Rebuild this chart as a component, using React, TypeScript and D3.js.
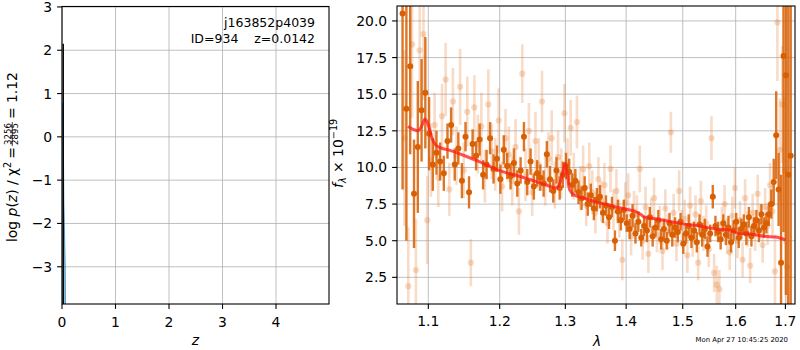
import React, { useLayoutEffect, useRef, useState } from "react";
import * as d3 from "d3";

// ---------- Data ----------
const pzTicksX = [0, 1, 2, 3, 4];
const pzTicksY = [-3, -2, -1, 0, 1, 2, 3];
const specTicksX = [1.1, 1.2, 1.3, 1.4, 1.5, 1.6, 1.7];
const specTicksY = [2.5, 5.0, 7.5, 10.0, 12.5, 15.0, 17.5, 20.0];

// chi2 / log p(z) spike
const chiZ = [0.0142, 0.0142];
const chiLogP = [-8, 2.15];
// p(z) blue fill
const pzZ = [0.016, 0.016, 0.028, 0.035, 0.06, 0.085];
const pzLogP = [-8, 0.78, -0.5, -1.5, -3.0, -8];

// spectrum, beam A (dark)
const darkLam0 = 1.066;
const darkStep = 0.005;
const darkFlux = [
  20.5, 14.0, 16.9, 8.2, 11.4, 13.9, 15.1, 12.3, 10.2, 11.0,
  10.4, 9.6, 11.8, 12.9, 10.2, 11.3, 9.1, 12.1, 8.3, 11.6,
  10.8, 11.9, 9.5, 10.2, 12.0, 9.9, 10.6, 9.2, 11.2, 10.1,
  9.4, 10.3, 8.9, 9.8, 12.1, 9.0, 10.4, 8.7, 9.6, 9.3,
  8.9, 10.9, 9.2, 8.4, 9.8, 8.6, 9.5, 10.1, 9.7, 8.8,
  9.1, 8.3, 7.9, 8.6, 7.5, 8.1, 7.2, 7.8, 8.0, 6.9,
  7.4, 6.6, 7.3, 5.0, 7.0, 6.4, 7.1, 6.2, 5.8, 6.7,
  5.5, 6.3, 5.2, 6.0, 5.7, 6.6, 5.3, 5.9, 6.4, 5.1,
  5.8, 5.0, 6.2, 5.4, 5.9, 5.6, 6.3, 4.8, 5.5, 6.0,
  5.2, 5.7, 4.9, 6.1, 5.4, 5.8, 4.6, 5.5, 8.0, 6.0,
  5.6, 5.1, 6.2, 5.4, 5.9, 4.9, 5.7, 6.3, 5.2, 5.8,
  6.1, 5.5, 6.6, 5.3, 6.0, 6.4, 5.7, 6.8, 5.9, 6.2,
  6.8, 7.5, 9.0, 12.2, 8.5, 3.5, 17.6, 16.3, 9.5, 10.8,
];
const darkErr = [
  12, 9, 6, 3.7, 4.5, 3.5, 3.8, 2.5, 1.8, 1.5,
  1.3, 1.2, 1.2, 1.2, 1.1, 1.1, 1.2, 1.0, 1.1, 1.0,
  1.0, 1.1, 1.0, 1.0, 1.1, 1.0, 0.9, 1.0, 1.0, 0.9,
  0.9, 1.0, 0.9, 0.9, 1.0, 0.9, 0.9, 0.9, 0.9, 0.9,
  0.9, 0.9, 0.9, 0.8, 0.9, 0.8, 0.9, 0.9, 0.9, 0.8,
  0.8, 0.8, 0.8, 0.8, 0.8, 0.8, 0.8, 0.8, 0.8, 0.7,
  0.7, 0.8, 0.7, 0.7, 0.8, 0.7, 0.7, 0.6, 0.7, 0.8,
  0.7, 0.7, 0.6, 0.7, 0.8, 0.7, 0.7, 0.6, 0.7, 0.7,
  0.7, 0.6, 0.7, 0.8, 0.7, 0.7, 0.6, 0.7, 0.7, 0.8,
  0.7, 0.6, 0.7, 0.7, 0.8, 0.7, 0.7, 0.6, 0.8, 0.7,
  0.7, 0.7, 0.6, 0.7, 0.8, 0.7, 0.7, 0.6, 0.7, 0.7,
  0.7, 0.8, 0.7, 0.7, 0.6, 0.7, 0.8, 0.7, 0.7, 0.7,
  0.8, 1.0, 1.6, 3.0, 2.5, 6, 12, 15, 20, 20,
];

// spectrum, beam B (light)
const lightLam0 = 1.0685;
const lightStep = 0.005;
const lightFlux = [
  12.0, 1.9, 18.4, 3.0, 18.0, 19.1, 6.4, 10.5, 12.9, 9.3,
  13.5, 16.0, 8.5, 14.5, 10.8, 15.5, 9.8, 13.8, 3.5, 14.1,
  11.6, 12.8, 9.4, 14.3, 11.1, 10.2, 13.2, 8.7, 12.0, 10.9,
  9.1, 11.4, 7.0, 16.4, 9.5, 12.5, 8.3, 11.8, 10.2, 14.5,
  9.1, 10.6, 12.0, 8.8, 10.7, 9.6, 13.7, 10.3, 12.7, 9.4,
  13.1, 8.6, 9.9, 7.4, 10.1, 8.3, 6.9, 9.2, 7.7, 8.8,
  6.2, 9.9, 7.1, 8.4, 6.5, 3.7, 7.6, 8.1, 5.3, 7.0,
  6.8, 9.9, 5.0, 7.3, 4.1, 6.6, 7.9, 5.4, 6.1, 4.3,
  7.2, 5.6, 12.4, 6.9, 4.8, 8.4, 5.9, 6.5, 4.0, 7.4,
  5.1, 6.8, 3.5, 7.7, 5.5, 6.2, 4.4, 12.0, 2.8, 2.0,
  1.7, 6.1, 7.5, 5.3, 4.2, 6.7, 8.6, 5.0, 6.4, 3.7,
  7.9, 5.8, 3.3, 6.9, 5.5, 8.2, 6.3, 4.7, 7.3, 6.0,
  8.8, 7.0, 2.9, 19.9, 11.2, 14.3, 9.8, 3.2,
];
const lightErr = [
  6, 4, 5, 3.5, 4, 4.5, 3, 2.5, 2.2, 2.0,
  2.2, 2.5, 1.8, 2.3, 2.0, 2.6, 1.9, 2.4, 1.6, 2.2,
  2.0, 2.3, 1.8, 2.4, 1.9, 1.8, 2.2, 1.7, 2.0, 1.9,
  1.7, 1.9, 1.6, 2.0, 1.8, 1.9, 1.6, 2.0, 1.8, 2.1,
  1.7, 1.8, 1.9, 1.6, 1.8, 1.7, 2.0, 1.7, 1.9, 1.6,
  1.8, 1.5, 1.6, 1.4, 1.6, 1.5, 1.4, 1.5, 1.4, 1.5,
  1.4, 1.6, 1.4, 1.5, 1.3, 1.4, 1.4, 1.5, 1.3, 1.4,
  1.3, 1.6, 1.3, 1.4, 1.3, 1.3, 1.4, 1.2, 1.3, 1.3,
  1.3, 1.2, 1.4, 1.3, 1.2, 1.4, 1.2, 1.3, 1.2, 1.3,
  1.2, 1.3, 1.2, 1.4, 1.2, 1.2, 1.2, 1.5, 1.3, 1.3,
  1.3, 1.2, 1.3, 1.2, 1.2, 1.3, 1.4, 1.2, 1.3, 1.2,
  1.3, 1.2, 1.2, 1.3, 1.2, 1.3, 1.2, 1.2, 1.3, 1.3,
  1.5, 1.8, 2.5, 4.0, 3.5, 4.0, 5.0, 6.0,
];

// model
const modelLam = [
  1.073, 1.08, 1.086, 1.091, 1.0955, 1.1, 1.105, 1.109, 1.116, 1.127,
  1.15, 1.175, 1.199, 1.225, 1.25, 1.27, 1.285, 1.291, 1.296, 1.3,
  1.303, 1.307, 1.315, 1.33, 1.353, 1.37, 1.382, 1.4, 1.415, 1.425,
  1.432, 1.45, 1.479, 1.5, 1.532, 1.561, 1.58, 1.595, 1.605, 1.63,
  1.657, 1.68, 1.7,
];
const modelFlux = [
  12.8, 12.6, 12.5, 12.8, 13.3, 12.9, 12.0, 11.6, 11.35, 11.2,
  10.8, 10.3, 9.8, 9.45, 9.1, 8.8, 8.6, 8.9, 9.6, 10.3,
  9.5, 8.45, 8.1, 7.9, 7.6, 7.45, 7.3, 7.15, 7.0, 6.8,
  6.6, 6.5, 6.3, 6.15, 6.0, 5.8, 5.75, 5.65, 5.5, 5.45,
  5.3, 5.25, 5.05,
];

const titleLine1 = "j163852p4039";
const titleLine2 = "ID=934    z=0.0142";
const dateText = "Mon Apr 27 10:45:25 2020";
const chiNum = "3256";
const chiDen = "2895";
const chiRatio = "1.12";

// ---------- Layout ----------
const FONT = "DejaVu Sans, sans-serif";
const FS = 13.9;
const GRID = "#b0b0b0";
const DARK = "#d95f02";
const LIGHT = "#e8833a";
const TICK = 4.9;

const L = { x0: 62, x1: 329, y0: 6.5, y1: 304 };
const R = { x0: 397, x1: 795, y0: 6, y1: 304 };

function PzLabel() {
  const ref = useRef<SVGTextElement>(null);
  const [w, setW] = useState(84);
  useLayoutEffect(() => {
    if (ref.current) setW(ref.current.getComputedTextLength());
  }, []);
  // total label spans ~172px; keep its start at 242 (bottom)
  const fracStart = w + 4;
  const fracW = 24;
  return (
    <g transform="translate(0,242) rotate(-90)" fill="#000">
      <text ref={ref} x={0} y={17} fontSize={FS}>
        log <tspan fontStyle="italic">p</tspan>(<tspan fontStyle="italic">z</tspan>) / χ
        <tspan fontSize={9.7} dy={-6}>2</tspan>
        <tspan dy={6} dx={3}>=</tspan>
      </text>
      <text x={fracStart + fracW / 2} y={10.8} fontSize={8.6} textAnchor="middle">
        {chiNum}
      </text>
      <line x1={fracStart} x2={fracStart + fracW} y1={12.3} y2={12.3} stroke="#000" strokeWidth={0.7} />
      <text x={fracStart + fracW / 2} y={18.3} fontSize={8.6} textAnchor="middle">
        {chiDen}
      </text>
      <text x={fracStart + fracW + 3} y={17} fontSize={FS}>
        = {chiRatio}
      </text>
    </g>
  );
}

export default function App() {
  const xz = d3.scaleLinear().domain([0, 4.99]).range([L.x0, L.x1]);
  const yz = d3.scaleLinear().domain([-3.86, 3.01]).range([L.y1, L.y0]);
  const xl = d3.scaleLog().domain([1.0588, 1.72]).range([R.x0, R.x1]);
  const yf = d3.scaleLinear().domain([0.68, 21.02]).range([R.y1, R.y0]);

  const chiLine = d3
    .line<number>()
    .x((_, i) => xz(chiZ[i]))
    .y((d) => yz(d))(chiLogP) as string;
  const pzPath = d3
    .line<number>()
    .x((_, i) => xz(pzZ[i]))
    .y((d) => yz(d))(pzLogP) as string;
  const modelPath = d3
    .line<number>()
    .x((_, i) => xl(modelLam[i]))
    .y((d) => yf(d))
    .curve(d3.curveMonotoneX)(modelFlux) as string;

  const dark = darkFlux.map((f, i) => ({ lam: darkLam0 + darkStep * i, f, e: darkErr[i] }));
  const light = lightFlux.map((f, i) => ({ lam: lightLam0 + lightStep * i, f, e: lightErr[i] }));

  const fmtMinus = (v: number) => (v < 0 ? "\u2212" + Math.abs(v) : String(v));

  return (
    <svg
      width={800}
      height={350}
      style={{ position: "absolute", left: 0, top: 0, background: "#fff" }}
      fontFamily={FONT}
    >
      <defs>
        <clipPath id="clipL">
          <rect x={L.x0} y={L.y0} width={L.x1 - L.x0} height={L.y1 - L.y0} />
        </clipPath>
        <clipPath id="clipR">
          <rect x={R.x0} y={R.y0} width={R.x1 - R.x0} height={R.y1 - R.y0} />
        </clipPath>
      </defs>
      <rect x={0} y={0} width={800} height={350} fill="#fff" />

      {/* ---------- Left panel ---------- */}
      <g>
        {pzTicksX.map((t) => (
          <line key={"gx" + t} x1={xz(t)} x2={xz(t)} y1={L.y0} y2={L.y1} stroke={GRID} strokeWidth={0.8} />
        ))}
        {pzTicksY.map((t) => (
          <line key={"gy" + t} x1={L.x0} x2={L.x1} y1={yz(t)} y2={yz(t)} stroke={GRID} strokeWidth={0.8} />
        ))}
        <g clipPath="url(#clipL)">
          <path d={pzPath} fill="#1f77b4" fillOpacity={0.45} stroke="#1f77b4" strokeOpacity={0.7} strokeWidth={1} />
          <path d={chiLine} fill="none" stroke="#000" strokeWidth={1.4} transform="translate(0.5,0)" />
        </g>
        <rect x={L.x0} y={L.y0} width={L.x1 - L.x0} height={L.y1 - L.y0} fill="none" stroke="#000" strokeWidth={1.1} />
        {pzTicksX.map((t) => (
          <g key={"tx" + t}>
            <line x1={xz(t)} x2={xz(t)} y1={L.y1} y2={L.y1 + TICK} stroke="#000" strokeWidth={1.1} />
            <text x={xz(t)} y={326.5} fontSize={FS} textAnchor="middle" fill="#000">
              {t}
            </text>
          </g>
        ))}
        {pzTicksY.map((t) => (
          <g key={"ty" + t}>
            <line x1={L.x0 - TICK} x2={L.x0} y1={yz(t)} y2={yz(t)} stroke="#000" strokeWidth={1.1} />
            <text x={L.x0 - 2 * TICK} y={yz(t)} dy="0.36em" fontSize={FS} textAnchor="end" fill="#000">
              {fmtMinus(t)}
            </text>
          </g>
        ))}
        <text x={315} y={27} fontSize={12.5} textAnchor="end" fill="#000">
          {titleLine1}
        </text>
        <text x={315} y={42.5} fontSize={12.5} textAnchor="end" fill="#000" style={{ whiteSpace: "pre" }}>
          {titleLine2}
        </text>
        <text x={195.5} y={345} fontSize={FS} textAnchor="middle" fontStyle="italic" fill="#000">
          z
        </text>
        <PzLabel />
      </g>

      {/* ---------- Right panel ---------- */}
      <g>
        {specTicksX.map((t) => (
          <line key={"rgx" + t} x1={xl(t)} x2={xl(t)} y1={R.y0} y2={R.y1} stroke={GRID} strokeWidth={0.8} />
        ))}
        {specTicksY.map((t) => (
          <line key={"rgy" + t} x1={R.x0} x2={R.x1} y1={yf(t)} y2={yf(t)} stroke={GRID} strokeWidth={0.8} />
        ))}
        <g clipPath="url(#clipR)">
          {light.map((p, i) => (
            <line
              key={"le" + i}
              x1={xl(p.lam)}
              x2={xl(p.lam)}
              y1={yf(p.f - p.e)}
              y2={yf(p.f + p.e)}
              stroke={LIGHT}
              strokeWidth={2.6}
              opacity={0.28}
            />
          ))}
          {light.map((p, i) => (
            <circle key={"lp" + i} cx={xl(p.lam)} cy={yf(p.f)} r={3.1} fill={LIGHT} opacity={0.3} />
          ))}
          {dark.map((p, i) => (
            <line
              key={"de" + i}
              x1={xl(p.lam)}
              x2={xl(p.lam)}
              y1={yf(p.f - p.e)}
              y2={yf(p.f + p.e)}
              stroke={DARK}
              strokeWidth={2.4}
              opacity={0.85}
            />
          ))}
          {dark.map((p, i) => (
            <circle key={"dp" + i} cx={xl(p.lam)} cy={yf(p.f)} r={3} fill={DARK} />
          ))}
          <path d={modelPath} fill="none" stroke="#ff1a1a" strokeOpacity={0.75} strokeWidth={3} strokeLinejoin="round" />
        </g>
        <rect x={R.x0} y={R.y0} width={R.x1 - R.x0} height={R.y1 - R.y0} fill="none" stroke="#000" strokeWidth={1.1} />
        {specTicksX.map((t) => (
          <g key={"rtx" + t}>
            <line x1={xl(t)} x2={xl(t)} y1={R.y1} y2={R.y1 + TICK} stroke="#000" strokeWidth={1.1} />
            <text x={xl(t)} y={326} fontSize={FS} textAnchor="middle" fill="#000">
              {t.toFixed(1)}
            </text>
          </g>
        ))}
        {specTicksY.map((t) => (
          <g key={"rty" + t}>
            <line x1={R.x0 - TICK} x2={R.x0} y1={yf(t)} y2={yf(t)} stroke="#000" strokeWidth={1.1} />
            <text x={R.x0 - 2 * TICK} y={yf(t)} dy="0.36em" fontSize={FS} textAnchor="end" fill="#000">
              {t.toFixed(1)}
            </text>
          </g>
        ))}
        <text x={597} y={346} fontSize={FS} textAnchor="middle" fontStyle="italic" fill="#000">
          λ
        </text>
        <g transform="translate(0,188) rotate(-90)" fill="#000">
          <text x={0} y={342.5} fontSize={FS}>
            <tspan fontStyle="italic">f</tspan>
            <tspan fontStyle="italic" fontSize={9.7} dy={3}>
              λ
            </tspan>
            <tspan dy={-3}> × 10</tspan>
            <tspan fontSize={9.7} dy={-6}>
              −19
            </tspan>
          </text>
        </g>
        <text x={788} y={342} fontSize={6.9} textAnchor="end" fill="#000">
          {dateText}
        </text>
      </g>
    </svg>
  );
}
